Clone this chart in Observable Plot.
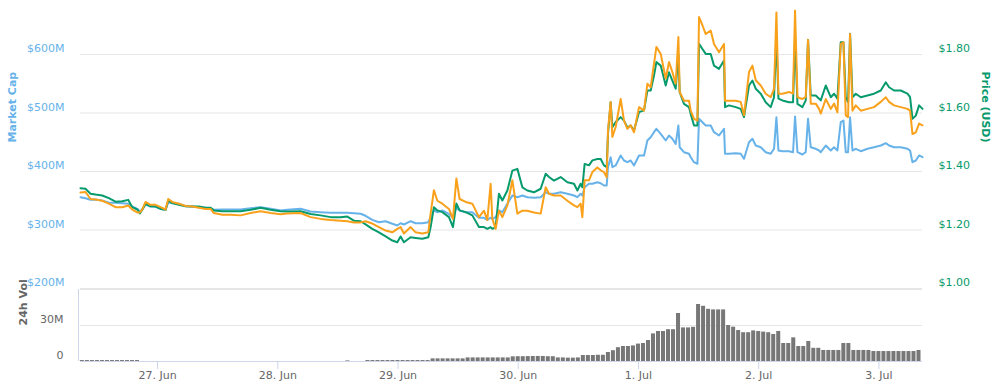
<!DOCTYPE html>
<html>
<head>
<meta charset="utf-8">
<script src="https://cdn.jsdelivr.net/npm/d3@7"></script>
<script src="https://cdn.jsdelivr.net/npm/@observablehq/plot@0.6"></script>
<style>
  html, body { margin: 0; padding: 0; background: #fff; }
  #chart { position: relative; width: 1001px; height: 391px; }
  #chart svg { position: absolute; left: 0; top: 0; }
</style>
</head>
<body>
<div id="chart"></div>
<script>
// ---- data (hours since 26 Jun 2017 00:00 UTC) ----
const hours = [
  8.62, 9.62, 10.62, 11.62, 12.96, 14.28, 15.61, 16.95, 18.15, 18.95,
  19.95, 20.47, 20.94, 21.60, 22.60, 23.60, 24.60, 25.60, 26.14, 26.94,
  28.25, 29.59, 30.93, 32.25, 33.58, 34.58, 35.24, 36.92, 38.58, 40.58,
  42.57, 44.57, 46.56, 48.56, 49.90, 52.55, 54.55, 56.55, 58.55, 60.54,
  61.88, 63.20, 64.54, 65.53, 66.87, 68.19, 69.53, 70.87, 71.86, 72.52,
  73.18, 74.52, 75.52, 76.86, 78.05, 78.51, 79.17, 79.85, 80.85, 82.17,
  82.97, 83.65, 84.30, 85.50, 86.84, 88.16, 89.16, 89.83, 90.49, 90.83,
  91.49, 92.15, 92.83, 93.83, 94.83, 95.83, 96.82, 97.82, 99.14, 100.48,
  101.48, 102.14, 103.13, 104.47, 105.81, 107.13, 107.81, 108.46, 108.80, 109.26,
  110.12, 110.80, 111.80, 112.46, 113.12, 113.66, 113.92, 114.45, 114.79, 115.45,
  116.45, 117.11, 117.79, 118.45, 119.11, 120.11, 121.11, 121.78, 122.44, 123.10,
  123.58, 124.44, 125.44, 126.10, 126.77, 127.43, 127.97, 128.23, 129.09, 130.09,
  130.43, 131.09, 131.77, 132.09, 132.77, 133.43, 134.42, 135.08, 136.08, 137.08,
  137.28, 138.08, 139.42, 140.41, 141.07, 142.07, 142.75, 143.41, 144.41, 145.40,
  146.40, 147.06, 147.54, 147.94, 148.74, 150.06, 150.86, 151.26, 151.74, 152.73,
  153.39, 153.85, 154.39, 155.39, 156.05, 156.39, 157.39, 158.39, 159.05, 159.72,
  160.38, 160.92, 161.38, 161.84, 162.24, 162.72, 163.38, 164.38, 165.71, 167.03,
  168.37, 169.37, 170.03, 171.02, 172.36, 173.70, 174.22, 174.70, 175.36, 176.02,
  176.70
];

// Market cap, millions of USD
const marketCapM = [
  356.1, 354.4, 351.6, 352.1, 350.4, 346.5, 346.5, 345.8, 344.8, 340.2,
  336.2, 332.1, 334.5, 343.6, 340.2, 340.2, 336.2, 334.5, 347.5, 345.8,
  344.8, 340.7, 340.2, 339.0, 337.9, 337.3, 334.5, 335.0, 335.0, 335.0,
  337.3, 339.0, 336.2, 333.3, 334.5, 336.2, 331.6, 330.4, 329.4, 329.4,
  329.4, 328.7, 327.7, 324.3, 317.4, 313.3, 315.0, 310.6, 307.7, 311.6,
  309.4, 315.0, 311.6, 311.6, 313.3, 321.9, 333.3, 330.4, 333.3, 327.7,
  320.9, 338.5, 333.3, 330.4, 330.4, 320.9, 320.9, 317.4, 320.9, 319.1,
  321.9, 333.3, 330.4, 344.8, 359.0, 356.1, 359.0, 356.1, 355.0, 356.1,
  364.6, 361.9, 361.9, 364.6, 361.9, 359.0, 356.1, 361.9, 359.0, 373.2,
  379.0, 379.0, 381.7, 380.0, 376.1, 376.1, 407.4, 424.4, 407.4, 410.3,
  427.4, 418.8, 415.9, 418.8, 410.3, 427.4, 427.4, 453.0, 458.6, 467.2,
  473.0, 464.4, 453.0, 461.5, 455.9, 447.3, 478.6, 441.5, 433.0, 430.3,
  424.4, 415.9, 413.2, 490.1, 484.3, 478.6, 478.6, 467.2, 461.5, 473.0,
  430.3, 430.3, 431.3, 430.3, 421.7, 450.1, 455.9, 444.4, 441.5, 433.0,
  430.3, 438.8, 492.8, 435.9, 434.7, 434.7, 433.0, 494.0, 433.0, 429.1,
  433.0, 490.1, 441.5, 438.8, 435.9, 433.0, 444.4, 435.9, 441.5, 435.9,
  484.3, 487.2, 433.0, 433.0, 492.8, 435.9, 438.8, 434.7, 438.8, 441.5,
  444.4, 448.4, 444.4, 441.5, 441.5, 438.8, 435.9, 415.9, 418.8, 427.4,
  424.4
];

// Price in USD
const priceUSD = [
  1.343, 1.341, 1.324, 1.321, 1.318, 1.309, 1.297, 1.298, 1.303, 1.278,
  1.270, 1.257, 1.269, 1.290, 1.281, 1.280, 1.272, 1.269, 1.301, 1.292,
  1.286, 1.281, 1.280, 1.280, 1.276, 1.276, 1.267, 1.264, 1.264, 1.264,
  1.269, 1.276, 1.269, 1.264, 1.263, 1.264, 1.255, 1.250, 1.244, 1.244,
  1.246, 1.232, 1.230, 1.219, 1.204, 1.192, 1.178, 1.164, 1.158, 1.178,
  1.158, 1.175, 1.173, 1.170, 1.175, 1.210, 1.278, 1.267, 1.261, 1.244,
  1.210, 1.291, 1.267, 1.261, 1.250, 1.210, 1.210, 1.204, 1.210, 1.204,
  1.210, 1.324, 1.301, 1.335, 1.403, 1.409, 1.346, 1.335, 1.329, 1.341,
  1.392, 1.381, 1.369, 1.381, 1.363, 1.358, 1.335, 1.358, 1.346, 1.426,
  1.421, 1.438, 1.443, 1.443, 1.421, 1.415, 1.529, 1.637, 1.551, 1.569,
  1.586, 1.574, 1.551, 1.557, 1.540, 1.603, 1.609, 1.677, 1.677, 1.728,
  1.774, 1.762, 1.694, 1.739, 1.711, 1.683, 1.800, 1.671, 1.631, 1.620,
  1.597, 1.557, 1.557, 1.837, 1.819, 1.802, 1.802, 1.762, 1.751, 1.779,
  1.620, 1.626, 1.620, 1.614, 1.586, 1.694, 1.711, 1.683, 1.666, 1.637,
  1.620, 1.654, 1.860, 1.649, 1.643, 1.637, 1.637, 1.860, 1.631, 1.620,
  1.643, 1.850, 1.660, 1.660, 1.649, 1.643, 1.694, 1.654, 1.666, 1.649,
  1.842, 1.842, 1.654, 1.637, 1.871, 1.654, 1.666, 1.654, 1.660, 1.666,
  1.677, 1.705, 1.688, 1.677, 1.677, 1.666, 1.654, 1.580, 1.591, 1.626,
  1.614
];

// Price in BTC (milli-BTC)
const priceMBTC = [
  0.564, 0.565, 0.553, 0.552, 0.550, 0.545, 0.539, 0.539, 0.542, 0.535,
  0.530, 0.530, 0.535, 0.548, 0.543, 0.543, 0.539, 0.535, 0.553, 0.548,
  0.545, 0.541, 0.540, 0.538, 0.536, 0.536, 0.529, 0.526, 0.526, 0.525,
  0.529, 0.532, 0.529, 0.527, 0.528, 0.529, 0.522, 0.519, 0.517, 0.516,
  0.515, 0.513, 0.513, 0.515, 0.511, 0.505, 0.499, 0.496, 0.502, 0.505,
  0.494, 0.505, 0.496, 0.494, 0.496, 0.528, 0.568, 0.550, 0.545, 0.536,
  0.519, 0.588, 0.553, 0.548, 0.545, 0.522, 0.533, 0.517, 0.579, 0.519,
  0.502, 0.533, 0.522, 0.542, 0.585, 0.528, 0.533, 0.533, 0.530, 0.528,
  0.573, 0.562, 0.559, 0.559, 0.550, 0.542, 0.539, 0.545, 0.522, 0.585,
  0.585, 0.599, 0.607, 0.602, 0.599, 0.590, 0.670, 0.719, 0.659, 0.676,
  0.724, 0.687, 0.673, 0.679, 0.667, 0.710, 0.704, 0.750, 0.744, 0.784,
  0.813, 0.801, 0.759, 0.787, 0.770, 0.750, 0.830, 0.736, 0.721, 0.721,
  0.704, 0.690, 0.687, 0.864, 0.850, 0.835, 0.841, 0.818, 0.804, 0.818,
  0.721, 0.721, 0.721, 0.719, 0.696, 0.770, 0.781, 0.756, 0.747, 0.733,
  0.727, 0.741, 0.872, 0.733, 0.733, 0.736, 0.733, 0.875, 0.727, 0.724,
  0.727, 0.825, 0.716, 0.716, 0.707, 0.699, 0.724, 0.707, 0.716, 0.701,
  0.818, 0.821, 0.696, 0.693, 0.835, 0.704, 0.713, 0.704, 0.707, 0.710,
  0.719, 0.727, 0.719, 0.713, 0.710, 0.707, 0.704, 0.664, 0.667, 0.682,
  0.679
];

// 24h volume, millions of USD, one bar per hour starting at hour 9
const volStartHour = 9;
const volumeM = [
  0.8, 0.8, 0.8, 0.8, 0.8, 0.8, 0.8, 0.8, 0.8, 0.8, 0.8, 0.8,
  0, 0, 0, 0, 0, 0, 0, 0, 0, 0, 0, 0, 0, 0, 0, 0, 0, 0, 0, 0,
  0, 0, 0, 0, 0, 0, 0, 0, 0, 0, 0, 0, 0, 0, 0, 0, 0, 0, 0, 0, 0,
  0.5, 0, 0, 0,
  0.8, 0.8, 0.8, 0.8, 0.8, 0.8, 0.8, 0.8, 0.8, 0.8, 0.8, 0.8, 0.8,
  2.2, 2.2, 2.2, 2.2, 2.2, 2.2, 2.2,
  3.0, 3.0, 3.0, 3.0, 3.0, 3.0, 3.0, 3.0, 3.0,
  3.9, 4.0, 4.0, 4.1, 4.2, 4.2, 4.2, 4.0, 4.0,
  3.0, 3.0, 2.8, 2.8, 3.0,
  5.0, 5.0, 5.0, 5.2, 5.2,
  7.5, 9.0,
  11.5, 12.5, 12.5, 13.0,
  14.5, 15.0,
  17.5,
  23.0,
  25.0, 25.0,
  26.5, 26.5,
  40.0,
  28.0, 28.0, 28.5,
  47.5,
  46.0,
  43.5, 43.0, 43.0, 43.0,
  30.0,
  28.6,
  25.8,
  24.0, 24.0,
  25.5, 25.0, 24.5, 24.0,
  22.5,
  25.0,
  15.0, 15.0,
  19.7,
  12.5, 12.5,
  16.7,
  11.0, 11.0,
  9.2, 9.2, 9.2, 9.2,
  15.0, 15.0,
  9.2, 9.2, 9.2, 9.2,
  8.3, 8.3, 8.3, 8.3, 8.3, 8.3, 8.3, 8.3, 8.3,
  9.2
];

const dayTicks = ["2017-06-27", "2017-06-28", "2017-06-29", "2017-06-30", "2017-07-01", "2017-07-02", "2017-07-03"];
const capTicks = [200, 300, 400, 500, 600];
const priceTicks = [1.0, 1.2, 1.4, 1.6, 1.8];
const volTicks = [0, 30];

// ---- build ----
const BLUE = "#66b2e9";
const GREEN = "#079a6c";
const ORANGE = "#f9a11b";
const FONT = '"DejaVu Sans", sans-serif';

const base = Date.UTC(2017, 5, 26);
const toDate = h => new Date(base + h * 3600e3);
const series = hours.map((h, i) => ({t: toDate(h), cap: marketCapM[i], usd: priceUSD[i], btc: priceMBTC[i]}));
const vol = volumeM.map((v, i) => ({
  t1: toDate(volStartHour + i - 0.5),
  t2: toDate(volStartHour + i + 0.5),
  v
}));
const xDomain = [toDate(hours[0]), toDate(hours[hours.length - 1])];
const dayDates = dayTicks.map(s => new Date(s + "T00:00:00Z"));

const common = {
  width: 1001, height: 391, marginLeft: 80, marginRight: 79,
  style: {fontFamily: FONT, fontSize: "11px", background: "transparent", overflow: "visible"}
};
const xOpt = {type: "utc", domain: xDomain, axis: null};

const capPlot = Plot.plot({
  ...common, marginTop: 54, marginBottom: 103,
  x: xOpt,
  y: {domain: [200, 600]},
  marks: [
    Plot.ruleY(capTicks, {stroke: "#e6e6e6", strokeWidth: 1}),
    Plot.line(series, {x: "t", y: "cap", stroke: BLUE, strokeWidth: 2}),
    Plot.axisY(capTicks, {anchor: "left", tickSize: 0, tickPadding: 16, tickFormat: d => `$${d}M`, fill: BLUE, dy: -6, label: null, fontSize: 11}),
    Plot.text(["Market Cap"], {frameAnchor: "left", dx: -68, dy: -29, rotate: -90, fill: BLUE, fontWeight: "bold", fontSize: 11})
  ]
});

const usdPlot = Plot.plot({
  ...common, marginTop: 54, marginBottom: 103,
  x: xOpt,
  y: {domain: [1.0, 1.8]},
  marks: [
    Plot.line(series, {x: "t", y: "usd", stroke: GREEN, strokeWidth: 2}),
    Plot.axisY(priceTicks, {anchor: "right", tickSize: 0, tickPadding: 16, tickFormat: d => "$" + d.toFixed(2), fill: GREEN, dy: -6, label: null, fontSize: 11}),
    Plot.text(["Price (USD)"], {frameAnchor: "right", dx: 63, dy: -29, rotate: 90, fill: GREEN, fontWeight: "bold", fontSize: 11})
  ]
});

const btcPlot = Plot.plot({
  ...common, marginTop: 54, marginBottom: 103,
  x: xOpt,
  y: {domain: [0.4, 0.8], axis: null},
  marks: [
    Plot.line(series, {x: "t", y: "btc", stroke: ORANGE, strokeWidth: 2})
  ]
});

const volPlot = Plot.plot({
  ...common, marginTop: 289, marginBottom: 30,
  x: {type: "utc", domain: xDomain},
  y: {domain: [0, 60]},
  marks: [
    Plot.ruleY([30, 60], {stroke: "#e6e6e6"}),
    Plot.rect(vol, {x1: "t1", x2: "t2", y1: 0, y2: "v", fill: "#777", insetLeft: 0.5, insetRight: 0.5}),
    Plot.ruleY([0], {stroke: "#ccd6eb"}),
    Plot.ruleX([xDomain[0]], {y1: 0, y2: 60, stroke: "#ccd6eb", dx: -2}),
    Plot.axisY(volTicks, {anchor: "left", tickSize: 0, tickPadding: 17, tickFormat: d => d ? d + "M" : "0", fill: "#666", dy: -6, label: null, fontSize: 11}),
    Plot.axisX(dayDates, {tickSize: 8, stroke: "#ccd6eb", fill: "#666", tickPadding: 2, tickFormat: d3.utcFormat("%-d. %b"), label: null, fontSize: 11}),
    Plot.text(["24h Vol"], {frameAnchor: "left", dx: -57, rotate: -90, fill: "#666", fontWeight: "bold", fontSize: 11})
  ]
});

const chart = document.getElementById("chart");
[capPlot, usdPlot, btcPlot, volPlot].forEach(p => chart.appendChild(p));
</script>
</body>
</html>
